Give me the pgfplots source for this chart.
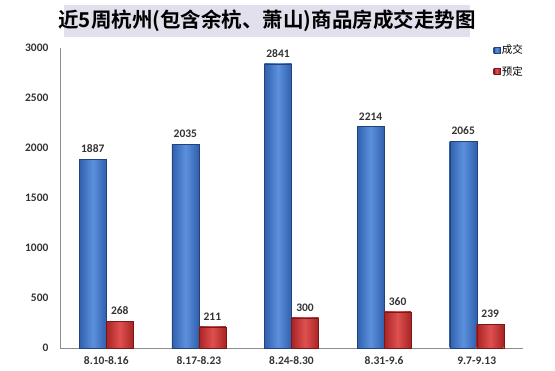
\documentclass[border=0pt]{standalone}
\usepackage{pgfplots}
\pgfplotsset{compat=1.18}
\usepackage{fontspec}
\setmainfont{Carlito}
\newfontfamily\cjk{Noto Sans CJK SC}
\newfontfamily\cjkb{Noto Sans CJK SC Bold}
\definecolor{bluemid}{HTML}{5C90DD}
\definecolor{blueedge}{HTML}{3060AE}
\definecolor{redmid}{HTML}{E05050}
\definecolor{rededge}{HTML}{A82424}
\definecolor{titlebg}{HTML}{E2E0EC}
\definecolor{ticktext}{HTML}{333333}
\pgfplotsset{
  bluebar/.style={draw=blueedge!70!black, left color=blueedge, right color=blueedge, middle color=bluemid, line width=0.3pt, bar shift=-13.5pt},
  redbar/.style={draw=rededge!70!black, left color=rededge, right color=rededge, middle color=redmid, line width=0.3pt, bar shift=13.5pt},
}
\begin{document}
\begin{tikzpicture}[x=1pt,y=1pt]
\useasboundingbox (0,0) rectangle (555,370);
\fill[titlebg] (64,333) rectangle (470,365);
\node[font=\cjkb\fontsize{20.5}{22}\selectfont, text=black] at (267,349.5) {近5周杭州(包含余杭、萧山)商品房成交走势图};
\begin{axis}[
  at={(60pt,22pt)}, anchor=south west,
  scale only axis, width=463pt, height=300pt,
  xmin=-0.5, xmax=4.5, ymin=0, ymax=3000,
  ytick={0,500,...,3000},
  xtick={0,1,2,3,4},
  xticklabels={8.10-8.16,8.17-8.23,8.24-8.30,8.31-9.6,9.7-9.13},
  axis x line*=bottom, axis y line*=left,
  x axis line style={draw=black!45, line width=0.8pt, -},
  y axis line style={draw=black!45, line width=0.8pt, -},
  tick style={draw=none},
  ticklabel style={font=\bfseries\fontsize{11.5}{12}\selectfont, text=ticktext},
  /pgf/number format/assume math mode=true,
  /pgf/number format/1000 sep={},
  xticklabel style={yshift=-3pt, inner sep=1pt},
  yticklabel style={xshift=-8pt},
  ybar, bar width=27pt,
  nodes near coords,
  nodes near coords style={font=\bfseries\fontsize{11.5}{12}\selectfont, text=ticktext, yshift=3pt},
  every node near coord/.append style={/pgf/number format/1000 sep={}},
  legend style={at={(0.936,1.018)}, anchor=north west, draw=none, fill=none,
    font=\cjk\fontsize{10.5}{12}\selectfont, row sep=7pt, inner sep=0pt},
  legend cell align=left,
  legend image code/.code={\fill[#1] (0pt,-3pt) rectangle (6pt,3pt);},
  clip=false,
]
\addplot[bluebar] coordinates {(0,1887)};
\addlegendentry{成交}
\addplot[redbar] coordinates {(0,268)};
\addlegendentry{预定}
\addplot[bluebar, forget plot] coordinates {(1,2035)};
\addplot[bluebar, forget plot] coordinates {(2,2841)};
\addplot[bluebar, forget plot] coordinates {(3,2214)};
\addplot[bluebar, forget plot] coordinates {(4,2065)};
\addplot[redbar, forget plot] coordinates {(1,211)};
\addplot[redbar, forget plot] coordinates {(2,300)};
\addplot[redbar, forget plot] coordinates {(3,360)};
\addplot[redbar, forget plot] coordinates {(4,239)};
\end{axis}
\end{tikzpicture}
\end{document}
